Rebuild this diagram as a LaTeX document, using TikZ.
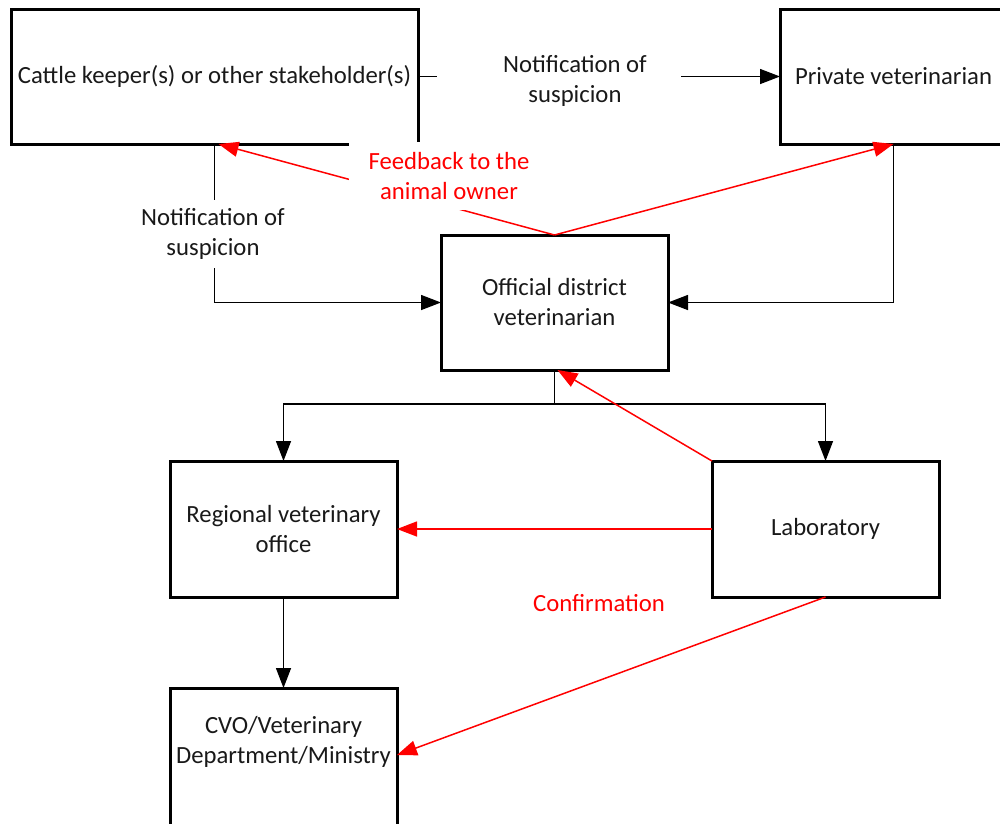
\documentclass[tikz,border=0pt]{standalone}
\usepackage{fontspec}
\setmainfont{Carlito}
\usetikzlibrary{arrows.meta,calc}
\definecolor{txt}{RGB}{25,25,25}
\definecolor{fbred}{RGB}{255,0,0}
\begin{document}
\begin{tikzpicture}[x=1pt,y=-1pt,
  every node/.style={font=\fontsize{24.7}{30}\selectfont, text=txt},
  box/.style={draw=black, line width=3pt, minimum width=227pt, minimum height=136pt,
    align=center, inner sep=0pt, outer sep=0pt},
  conn/.style={draw=black, line width=1.4pt, -{Triangle[length=20pt,width=15pt]}},
  plainline/.style={draw=black, line width=1.4pt},
  redarrow/.style={draw=fbred, line width=1.5pt, -{Triangle[length=20pt,width=15pt]}},
  lbl/.style={fill=white, align=center, inner sep=0pt},
  redlbl/.style={align=center, text=fbred}
]
\useasboundingbox (0,0) rectangle (1000,823);
\clip (0,0) rectangle (1000,823);

% boxes
\node[box, minimum width=407pt, minimum height=135pt] (cattle) at (214.5,76.5) {Cattle keeper(s) or other stakeholder(s)};
\node[box, minimum height=135pt] (priv) at (893.5,76.5) {Private veterinarian};
\node[box, minimum height=135pt] (off) at (554.5,302.5) {Official district\\veterinarian};
\node[box] (reg) at (283.5,529) {Regional veterinary\\office};
\node[box] (lab) at (825.5,529) {Laboratory};
\node[box, anchor=north, minimum height=160pt] (cvo) at (283.5,688) {};
\node[align=center] (cvot) at (283.5,742) {CVO/Veterinary\\Department/Ministry};

% black connectors
\coordinate (split) at (554.5,404);
\draw[conn] (cattle.east) -- (priv.west);
\draw[conn] (cattle.south) |- (off.west);
\draw[conn] (priv.south) |- (off.east);
\draw[plainline] (off.south) -- (split);
\draw[conn] (split) -| (reg.north);
\draw[conn] (split) -| (lab.north);
\draw[conn] (reg.south) -- (cvo.north);

% red connectors
\draw[redarrow] (off.north) -- ($(cattle.south)+(4,0)$);
\draw[redarrow] (off.north) -- (priv.south);
\draw[redarrow] (lab.north west) -- ($(off.south)+(3,0)$);
\draw[redarrow] (lab.west) -- (reg.east);
\draw[redarrow] (lab.south) -- ($(cvo.north east)+(0,67)$);

% labels
\node[lbl, minimum width=244pt, minimum height=62pt] (n1) at (559,81)
  {\hspace*{32pt}Notification of\\\hspace*{32pt}suspicion};
\node[lbl, minimum height=68pt, inner xsep=3pt] (n2) at (213,234)
  {Notification of\\suspicion};
\node[lbl, text=fbred, minimum width=200pt, minimum height=68pt] (fb) at (449,176)
  {Feedback to the\\animal owner};
\node[redlbl] (conf) at (599,603) {Confirmation};
\end{tikzpicture}
\end{document}
